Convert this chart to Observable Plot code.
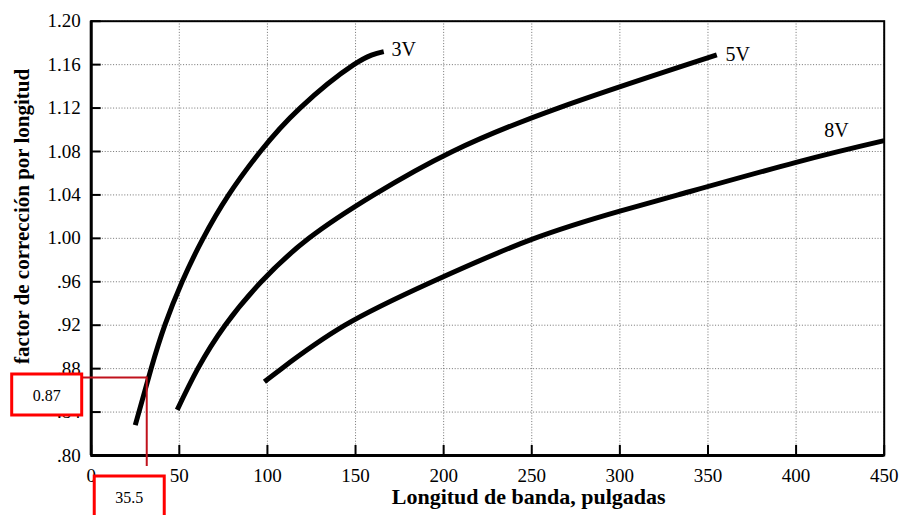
<!DOCTYPE html>
<html>
<head>
<meta charset="utf-8">
<script src="https://cdn.jsdelivr.net/npm/d3@7"></script>
<script src="https://cdn.jsdelivr.net/npm/@observablehq/plot@0.6"></script>
<style>
html, body { margin: 0; padding: 0; background: #fff; }
#chart svg { display: block; }
</style>
</head>
<body>
<div id="chart"></div>
<script>
// ---- data ----
const seriesNames = ["3V", "5V", "8V"];

const lengths3V = [25, 34, 41.8, 51.6, 63.5, 78, 96, 118.5, 149, 166];
const factors3V = [0.828, 0.88, 0.92, 0.96, 1.00, 1.04, 1.08, 1.12, 1.16, 1.172];

const lengths5V = [48.8, 60.5, 76, 96.5, 123.5, 160.4, 205, 265, 338, 355];
const factors5V = [0.842, 0.88, 0.92, 0.96, 1.00, 1.04, 1.08, 1.12, 1.16, 1.169];

const lengths8V = [98.3, 108, 144, 193.5, 250, 300, 333, 400, 450];
const factors8V = [0.868, 0.88, 0.92, 0.96, 0.999, 1.025, 1.04, 1.07, 1.09];

const labelX = [170.4, 360, 416];
const labelY = [1.1734, 1.1697, 1.099];

const xTicks = [0, 50, 100, 150, 200, 250, 300, 350, 400, 450];
const yTicks = [0.80, 0.84, 0.88, 0.92, 0.96, 1.00, 1.04, 1.08, 1.12, 1.16, 1.20];
const yTickLabels = [".80", ".84", ".88", ".92", ".96", "1.00", "1.04", "1.08", "1.12", "1.16", "1.20"];

const xTitle = "Longitud de banda, pulgadas";
const yTitle = "factor de corrección por longitud";

// annotation (crosshair on the 3V curve)
const markX = 31.8;
const markY = 0.87;
const markXLabel = "35.5";
const markYLabel = "0.87";

// ---- build tables ----
const allLengths = [lengths3V, lengths5V, lengths8V];
const allFactors = [factors3V, factors5V, factors8V];
const rows = [];
seriesNames.forEach((s, k) => {
  allLengths[k].forEach((x, i) => rows.push({series: s, length: x, factor: allFactors[k][i]}));
});
const labels = seriesNames.map((s, i) => ({name: s, x: labelX[i], y: labelY[i]}));

// ---- layout ----
const W = 903, H = 515;
const mL = 90.7, mR = 19.3, mT = 20.7, mB = 60;
const plotW = W - mL - mR, plotH = H - mT - mB;
const serif = "'Liberation Serif', 'Times New Roman', serif";

const chart = Plot.plot({
  width: W,
  height: H,
  marginLeft: mL,
  marginRight: mR,
  marginTop: mT,
  marginBottom: mB,
  x: {domain: [0, 450], axis: null},
  y: {domain: [0.80, 1.20], axis: null},
  style: {background: "#fff", fontFamily: serif, color: "#000"},
  marks: [
    // dotted grid
    Plot.ruleX(xTicks, {stroke: "#444", strokeWidth: 1, strokeDasharray: "1,1.8", strokeOpacity: 0.75}),
    Plot.ruleY(yTicks, {stroke: "#444", strokeWidth: 1, strokeDasharray: "1,1.8", strokeOpacity: 0.75}),
    // inward ticks
    Plot.ruleX(xTicks, {insetTop: plotH - 10, stroke: "#000", strokeWidth: 2}),
    Plot.ruleY(yTicks, {insetRight: plotW - 10, stroke: "#000", strokeWidth: 2}),
    // frame and heavy axes
    Plot.frame({stroke: "#000", strokeWidth: 2}),
    Plot.ruleX([0], {stroke: "#000", strokeWidth: 3}),
    Plot.ruleY([0.80], {stroke: "#000", strokeWidth: 3}),
    // curves
    Plot.line(rows, {x: "length", y: "factor", z: "series", curve: "natural",
      stroke: "#000", strokeWidth: 5, strokeLinecap: "butt"}),
    // curve labels
    Plot.text(labels, {x: "x", y: "y", text: "name", textAnchor: "start", lineAnchor: "middle",
      fontSize: 20, fontFamily: serif, fill: "#000"}),
    // tick labels
    Plot.text(xTicks, {x: d => d, frameAnchor: "bottom", dy: 20, text: d => String(d),
      textAnchor: "middle", lineAnchor: "middle",
      fontSize: 19, fontFamily: serif, fill: "#000"}),
    Plot.text(yTicks, {y: d => d, frameAnchor: "left", dx: -10.5, textAnchor: "end", lineAnchor: "middle",
      text: (d, i) => yTickLabels[i], fontSize: 19, fontFamily: serif, fill: "#000"}),
    // axis titles
    Plot.text([xTitle], {frameAnchor: "bottom", dx: 41, dy: 41.5, text: d => d,
      textAnchor: "middle", lineAnchor: "middle",
      fontSize: 22, fontWeight: "bold", fontFamily: serif, fill: "#000"}),
    Plot.text([yTitle], {frameAnchor: "left", dx: -68.5, dy: -22, rotate: -90, text: d => d,
      textAnchor: "middle", lineAnchor: "middle",
      fontSize: 21, fontWeight: "bold", fontFamily: serif, fill: "#000"})
  ]
});

document.getElementById("chart").appendChild(chart);

// ---- red annotation, positioned through the plot's own scales ----
function scaleFn(name) {
  const s = chart.scale(name);
  if (s && typeof s.apply === "function") return v => s.apply(v);
  return d3.scaleLinear(s.domain, s.range);
}
const sx = scaleFn("x"), sy = scaleFn("y");
const lx = sx(markX), ly = sy(markY), x0 = sx(0), yb = sy(0.80);
const svg = d3.select(chart);
const g = svg.append("g").attr("font-family", serif);
const lineColor = "#c0121c", boxColor = "#ff0000";

g.append("line").attr("x1", x0 - 9).attr("x2", lx).attr("y1", ly - 1.5).attr("y2", ly - 1.5)
  .attr("stroke", lineColor).attr("stroke-width", 2);
g.append("line").attr("x1", lx).attr("x2", lx).attr("y1", ly - 2.5).attr("y2", yb + 11)
  .attr("stroke", lineColor).attr("stroke-width", 2);

g.append("rect").attr("x", x0 - 79).attr("y", ly - 5).attr("width", 70).attr("height", 41)
  .attr("fill", "#fff").attr("stroke", boxColor).attr("stroke-width", 3);
g.append("text").attr("x", x0 - 44).attr("y", ly + 17).attr("text-anchor", "middle")
  .attr("dominant-baseline", "central").attr("font-size", 16).attr("fill", "#000").text(markYLabel);

g.append("rect").attr("x", lx - 52.5).attr("y", yb + 21).attr("width", 70).attr("height", 45)
  .attr("fill", "#fff").attr("stroke", boxColor).attr("stroke-width", 3);
g.append("text").attr("x", lx - 17.5).attr("y", yb + 42.5).attr("text-anchor", "middle")
  .attr("dominant-baseline", "central").attr("font-size", 16).attr("fill", "#000").text(markXLabel);
</script>
</body>
</html>
